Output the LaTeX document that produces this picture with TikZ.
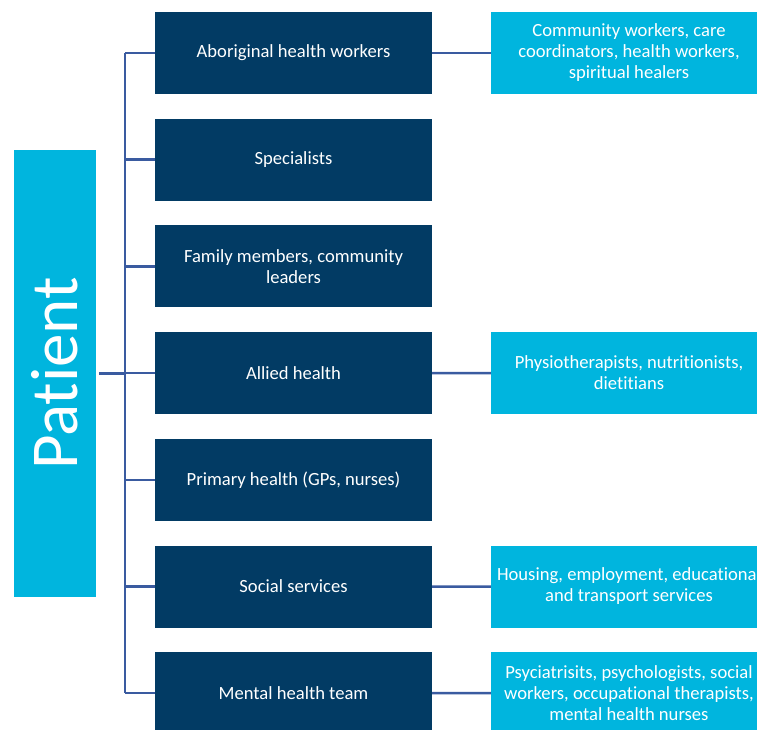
\documentclass[tikz,border=0pt]{standalone}
\usepackage{fontspec}
\setmainfont[Ligatures={NoCommon,NoRare,NoDiscretionary}]{Carlito}
\definecolor{darkbox}{HTML}{023B64}
\definecolor{lightbox}{HTML}{00B5DE}
\definecolor{linkcol}{HTML}{3A5BA0}
\begin{document}
\begin{tikzpicture}[x=1pt,y=-1pt,
  darkstyle/.style={fill=darkbox,text=white,minimum width=277pt,minimum height=82pt,inner sep=0pt,align=center,font=\fontsize{18.6}{21}\selectfont},
  lightstyle/.style={fill=lightbox,text=white,minimum width=276pt,minimum height=82pt,inner sep=0pt,align=center,font=\fontsize{18.6}{21}\selectfont},
  link/.style={draw=linkcol,line width=2.5pt}]
\useasboundingbox (0,0) rectangle (757,730);
\node[fill=lightbox,minimum width=82pt,minimum height=447pt,inner sep=0pt] (patient) at (55,373.5) {};
\node[text=white,rotate=90,font=\fontsize{67}{70}\selectfont] (ptext) at (55,373.5) {Pat\kern0pt ient};
\foreach \i/\t in {1/{Aboriginal health workers},2/{Specialists},3/{Family members, community\\leaders},4/{Allied health},5/{Primary health (GPs, nurses)},6/{Social services},7/{Mental health team}}{
  \node[darkstyle] (d\i) at (293.5,{53+(\i-1)*106.7}) {\t};
}
\node[lightstyle] (l1) at (629,53) {Community workers, care\\coordinators, health workers,\\spiritual healers};
\node[lightstyle] (l4) at (629,373) {Physiotherapists, nutritionists,\\dietitians};
\node[lightstyle] (l6) at (629,586.5) {Housing, employment, educational\\and transport services};
\node[lightstyle] (l7) at (629,693) {Psyciatrisits, psychologists, social\\workers, occupational therapists,\\mental health nurses};
\coordinate (spine) at (125,0);
\draw[link] (spine |- d1.west) -- (spine |- d7.west);
\foreach \i in {1,...,7}{
  \draw[link] (spine |- d\i.west) -- (d\i.west);
}
\draw[link] (patient.east) ++(3pt,0) -- (spine |- patient.east);
\foreach \i in {1,4,6,7}{
  \draw[link] (d\i.east) -- (l\i.west);
}
\end{tikzpicture}
\end{document}
